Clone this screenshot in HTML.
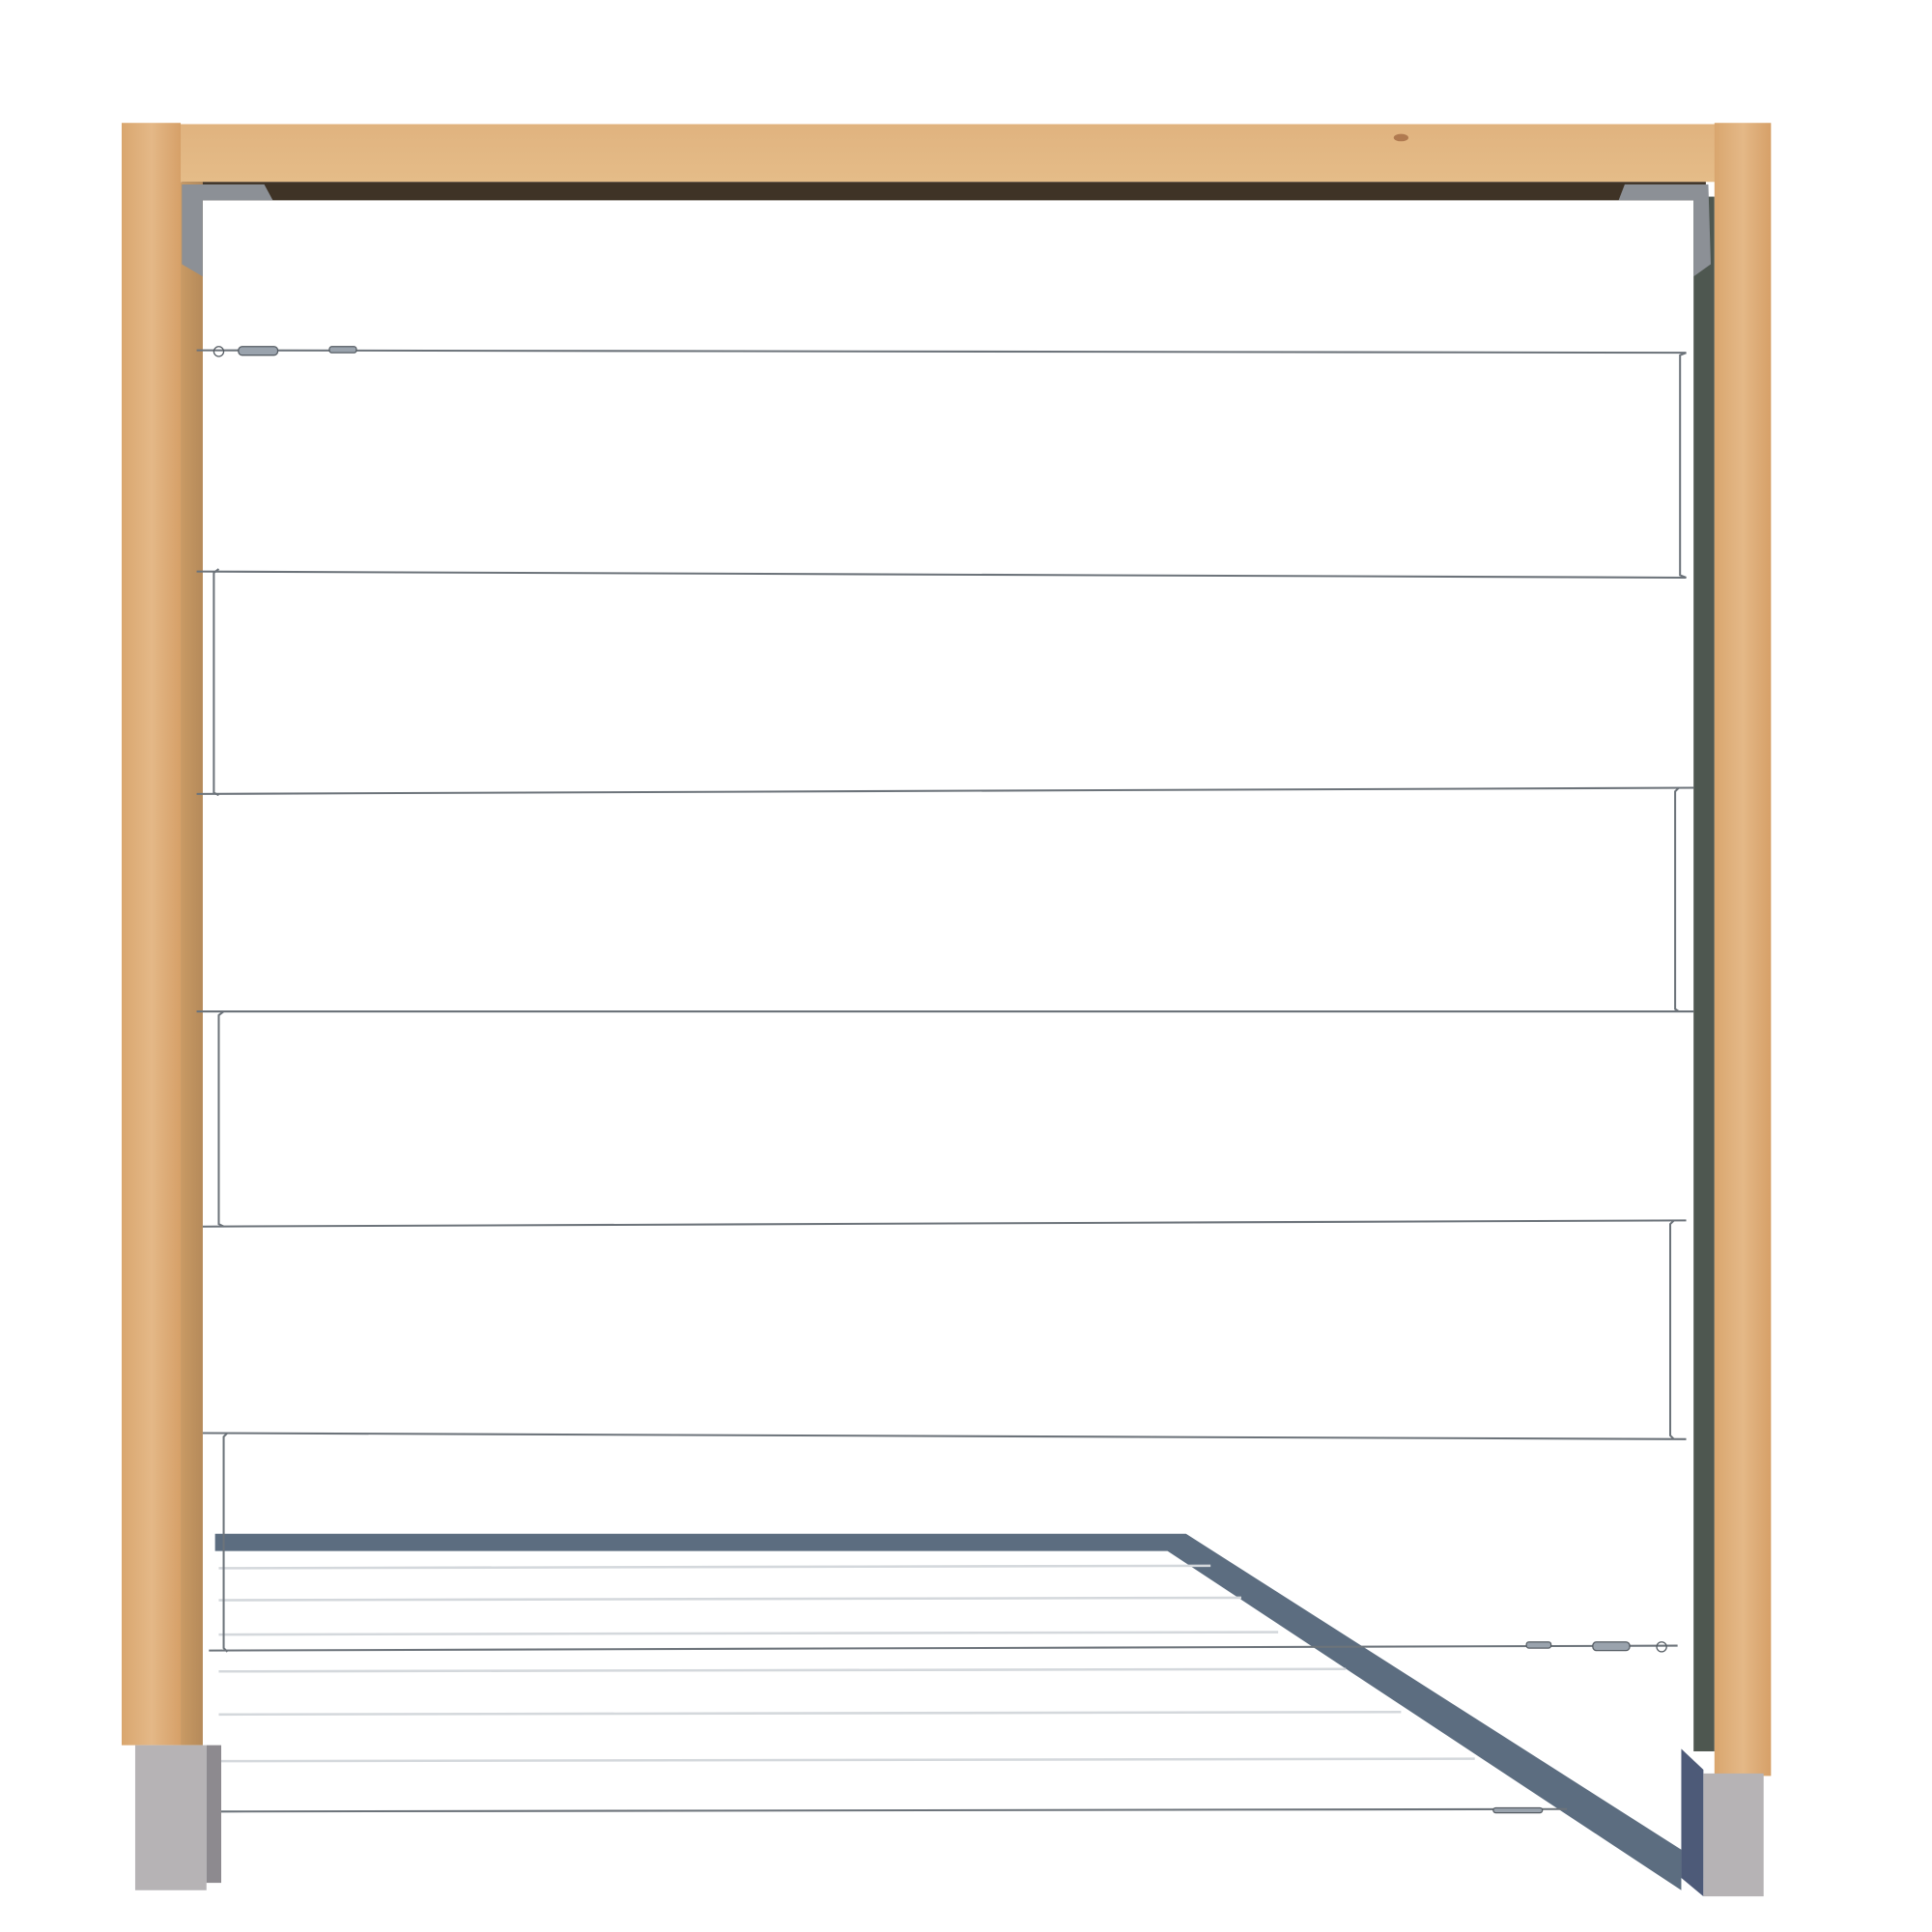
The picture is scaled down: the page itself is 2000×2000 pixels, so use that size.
<!DOCTYPE html>
<html><head><style>html,body{margin:0;padding:0;background:#fff}svg{display:block}</style></head>
<body>
<svg width="2000" height="2000" viewBox="0 0 1572 1572" xmlns="http://www.w3.org/2000/svg">
<defs>
<linearGradient id="wood" x1="0" x2="1" y1="0" y2="0">
<stop offset="0" stop-color="#d9a66e"/><stop offset="0.5" stop-color="#e4b887"/><stop offset="1" stop-color="#d6a068"/></linearGradient>
<linearGradient id="woodside" x1="0" x2="1"><stop offset="0" stop-color="#c99a64"/><stop offset="1" stop-color="#b58a5a"/></linearGradient>
<linearGradient id="beam" x1="0" x2="0" y1="0" y2="1"><stop offset="0" stop-color="#e0b37f"/><stop offset="1" stop-color="#e5bc88"/></linearGradient>
</defs>
<!-- shadow -->
<polygon points="175,1248 965,1248 1368,1505 1368,1538 950,1262 175,1262" fill="#5c6d80"/>
<g stroke="#d4d8dc" stroke-width="2" fill="none">
<line x1="178" y1="1276" x2="985" y2="1274"/>
<line x1="178" y1="1302" x2="1010" y2="1300"/>
<line x1="178" y1="1330" x2="1040" y2="1328"/>
<line x1="178" y1="1360" x2="1095" y2="1358"/>
<line x1="178" y1="1395" x2="1140" y2="1393"/>
<line x1="178" y1="1433" x2="1200" y2="1431"/>
</g>
<!-- beam -->
<rect x="146" y="101" width="1250" height="47" fill="url(#beam)"/>
<rect x="148" y="148" width="1240" height="15" fill="#3f3326"/>
<ellipse cx="1140" cy="112" rx="6" ry="3" fill="#b07a50"/>
<!-- left post -->
<rect x="99" y="100" width="48" height="1320" fill="url(#wood)"/>
<rect x="147" y="148" width="18" height="1272" fill="url(#woodside)"/>
<rect x="110" y="1420" width="58" height="118" fill="#b6b3b5"/>
<rect x="168" y="1420" width="12" height="112" fill="#8d8a8f"/>
<!-- right post -->
<rect x="1378" y="160" width="17" height="1265" fill="#4e5750"/>
<rect x="1395" y="100" width="46" height="1345" fill="url(#wood)"/>
<polygon points="1368,1423 1386,1440 1386,1543 1368,1528" fill="#4d5a78"/>
<rect x="1386" y="1443" width="49" height="100" fill="#b6b3b5"/>
<!-- brackets -->
<polygon points="148,150 215,150 222,163 165,163 165,225 148,215" fill="#8c9096"/>
<polygon points="1390,150 1322,150 1317,163 1378,163 1378,225 1392,215" fill="#8c9096"/>
<!-- wires -->
<g stroke="#6c737a" stroke-width="1.6" fill="none">
<line x1="160" y1="285" x2="1372" y2="287"/>
<polyline points="1372,287 1367,289 1367,468 1372,470"/>
<line x1="160" y1="465" x2="1372" y2="470"/>
<polyline points="178,463 174,466 174,645 178,647"/>
<line x1="160" y1="646" x2="1378" y2="641"/>
<polyline points="1366,641 1363,644 1363,821 1366,823"/>
<line x1="160" y1="823" x2="1378" y2="823"/>
<polyline points="182,823 178,826 178,996 182,998"/>
<line x1="165" y1="998" x2="1372" y2="993"/>
<polyline points="1362,993 1359,996 1359,1168 1362,1171"/>
<line x1="165" y1="1166" x2="1372" y2="1171"/>
<polyline points="185,1166 182,1169 182,1341 185,1344"/>
<line x1="170" y1="1343" x2="1365" y2="1339"/>
<line x1="180" y1="1474" x2="1275" y2="1472"/>
</g>
<!-- turnbuckles -->
<g fill="#9aa3ad" stroke="#555c63" stroke-width="1">
<rect x="194" y="282" width="32" height="7" rx="3"/>
<circle cx="178" cy="286" r="4" fill="none"/>
<rect x="268" y="282" width="22" height="5" rx="2"/>
<rect x="1296" y="1336" width="30" height="7" rx="3"/>
<circle cx="1352" cy="1340" r="4" fill="none"/>
<rect x="1242" y="1336" width="20" height="5" rx="2"/>
<rect x="1215" y="1471" width="40" height="4" rx="2"/>
</g>
</svg>
</body></html>
